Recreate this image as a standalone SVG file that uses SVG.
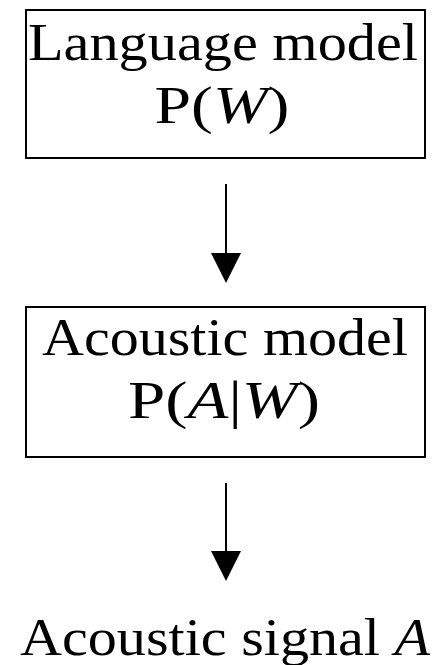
<svg xmlns="http://www.w3.org/2000/svg" width="442" height="665" viewBox="0 0 442 665">
<style>
.box{fill:#fff;stroke:#000;stroke-width:2}
.t{font-family:"Liberation Serif","Times New Roman",serif;font-size:52px;fill:#000;text-anchor:middle}
.i{font-style:italic}
.c{stroke:#000;stroke-width:2;fill:none}
</style>
<defs>
<marker id="ah" markerWidth="30" markerHeight="30" refX="0" refY="15" orient="auto" markerUnits="userSpaceOnUse" viewBox="0 0 30 30">
<path d="M0,0 L30,15 L0,30 Z" fill="#000"/>
</marker>
</defs>
<rect width="442" height="665" fill="#fff"/>
<g id="language-model">
<rect class="box" x="26" y="10" width="399" height="148"/>
<text class="t" x="223" y="60" textLength="390" lengthAdjust="spacingAndGlyphs">Language model</text>
<text class="t" x="222" y="123" textLength="135" lengthAdjust="spacingAndGlyphs">P(<tspan class="i">W</tspan>)</text>
</g>
<g id="acoustic-model">
<rect class="box" x="26" y="307" width="399" height="150"/>
<text class="t" x="225" y="355" textLength="366" lengthAdjust="spacingAndGlyphs">Acoustic model</text>
<text class="t" x="224" y="418" textLength="192" lengthAdjust="spacingAndGlyphs">P(<tspan class="i">A</tspan>|<tspan class="i">W</tspan>)</text>
</g>
<g id="acoustic-signal">
<text class="t" x="225" y="655" textLength="410" lengthAdjust="spacingAndGlyphs">Acoustic signal <tspan class="i">A</tspan></text>
</g>
<g id="connectors">
<line class="c" x1="226" y1="184" x2="226" y2="253" marker-end="url(#ah)"/>
<line class="c" x1="226" y1="483" x2="226" y2="551" marker-end="url(#ah)"/>
</g>
</svg>
